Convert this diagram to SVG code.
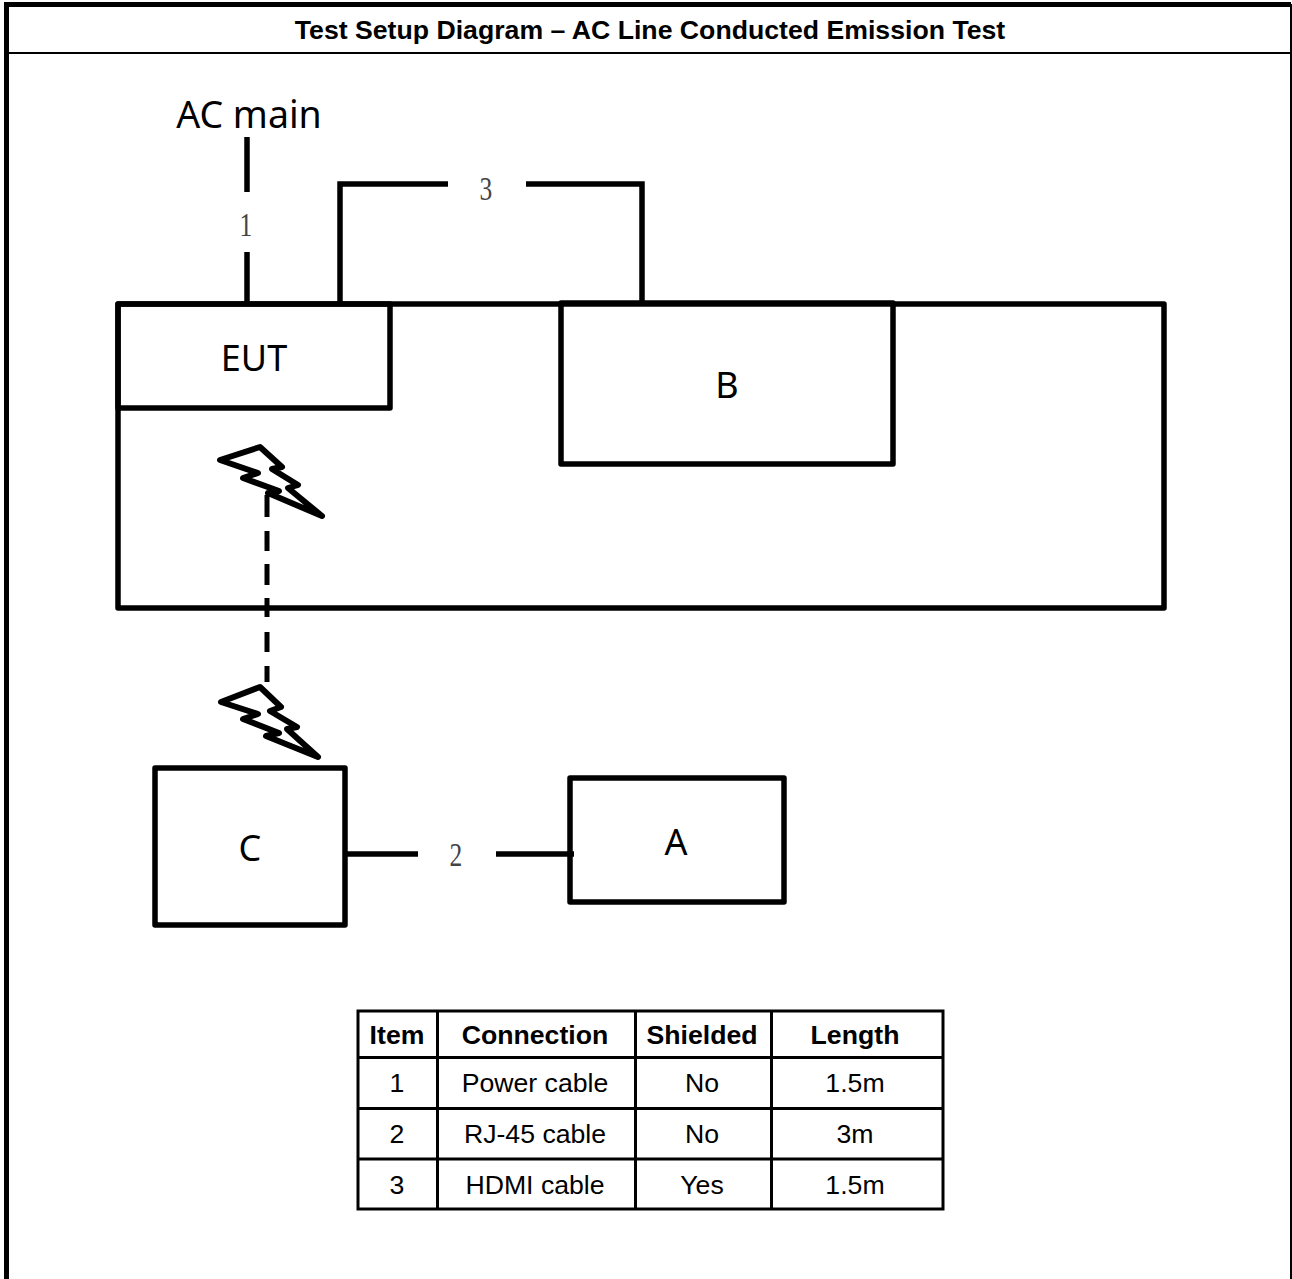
<svg xmlns="http://www.w3.org/2000/svg" width="1292" height="1279" viewBox="0 0 1292 1279">
<style>
.box{fill:none;stroke:#000;stroke-width:5.500;stroke-linejoin:round;stroke-linecap:round}
.wire{fill:none;stroke:#000;stroke-width:5.500}
.bolt{fill:none;stroke:#000;stroke-width:6;stroke-linejoin:round}
.lab{font-family:"Noto Sans","Open Sans",sans-serif;fill:#000;text-anchor:middle}
.num{font-family:"Liberation Serif",serif;font-size:34px;fill:#444;text-anchor:middle}
.cell{font-family:"Liberation Sans",Arial,sans-serif;font-size:26.670px;fill:#000;text-anchor:middle}
.hd{font-weight:bold}
.tb{stroke:#000;stroke-width:3;fill:none}
</style>
<rect width="1292" height="1279" fill="#fff"/>
<g id="frame">
<path d="M6.500 1279V4.500H1291" fill="none" stroke="#000" stroke-width="5"/>
<path d="M1291 4V1279" fill="none" stroke="#000" stroke-width="2"/>
<path d="M6 53H1291" stroke="#000" stroke-width="2"/>
<text x="650" y="39" font-family="Liberation Sans,Arial,sans-serif" font-size="26.670" font-weight="bold" text-anchor="middle">Test Setup Diagram – AC Line Conducted Emission Test</text>
</g>
<g id="connectors">
<path class="wire" d="M247 137V192M247 252V304"/>
<path class="wire" d="M340 304V184H448M526 184H642V304"/>
<path class="wire" d="M345 854H418M496 854H574"/>
<path d="M267 495V517M267 531V551M267 564V585M267 598V617M267 632V652M267 666V682" fill="none" stroke="#000" stroke-width="5"/>
</g>
<g id="table-surface"><rect class="box" x="118" y="304" width="1046" height="304"/></g>
<g id="eut"><rect class="box" x="118" y="304" width="272" height="104"/><text class="lab" x="254" y="371" font-size="36">EUT</text></g>
<g id="ac-main"><text class="lab" x="249" y="128" font-size="37.500">AC main</text></g>
<g id="label-1"><text class="num" transform="translate(246 236) scale(.75 1)">1</text></g>
<g id="label-2"><text class="num" transform="translate(456 866) scale(.75 1)">2</text></g>
<g id="label-3"><text class="num" transform="translate(486 200) scale(.75 1)">3</text></g>
<g id="b"><rect class="box" x="561" y="303" width="332" height="161"/><text class="lab" x="727" y="398" font-size="36">B</text></g>
<g id="c"><rect class="box" x="155" y="768" width="190" height="157"/><text class="lab" x="250" y="861" font-size="36">C</text></g>
<g id="a"><rect class="box" x="570" y="778" width="214" height="124"/><text class="lab" x="676" y="855" font-size="36">A</text></g>
<g id="bolt-eut"><path class="bolt" d="M220 460L260 447L282 467L272 469L298 485L288 488L322 516L268 493L279 491L243 478L258 473Z"/></g>
<g id="bolt-c"><path class="bolt" d="M221 702L260 687L281 707L270 711L297 727L287 729L318 757L266 736L279 733L243 719L258 714Z"/></g>
<g id="cable-table">
<rect class="tb" x="358" y="1011" width="585" height="198"/>
<path class="tb" d="M437.500 1011V1209M635.500 1011V1209M771.500 1011V1209M358 1057.500H943M358 1108.500H943M358 1159H943"/>
<g class="cell">
<text class="hd" x="397" y="1044">Item</text><text class="hd" x="535" y="1044">Connection</text><text class="hd" x="702" y="1044">Shielded</text><text class="hd" x="855" y="1044">Length</text>
<text x="397" y="1092">1</text><text x="535" y="1092">Power cable</text><text x="702" y="1092">No</text><text x="855" y="1092">1.5m</text>
<text x="397" y="1143">2</text><text x="535" y="1143">RJ-45 cable</text><text x="702" y="1143">No</text><text x="855" y="1143">3m</text>
<text x="397" y="1194">3</text><text x="535" y="1194">HDMI cable</text><text x="702" y="1194">Yes</text><text x="855" y="1194">1.5m</text>
</g>
</g>
</svg>
